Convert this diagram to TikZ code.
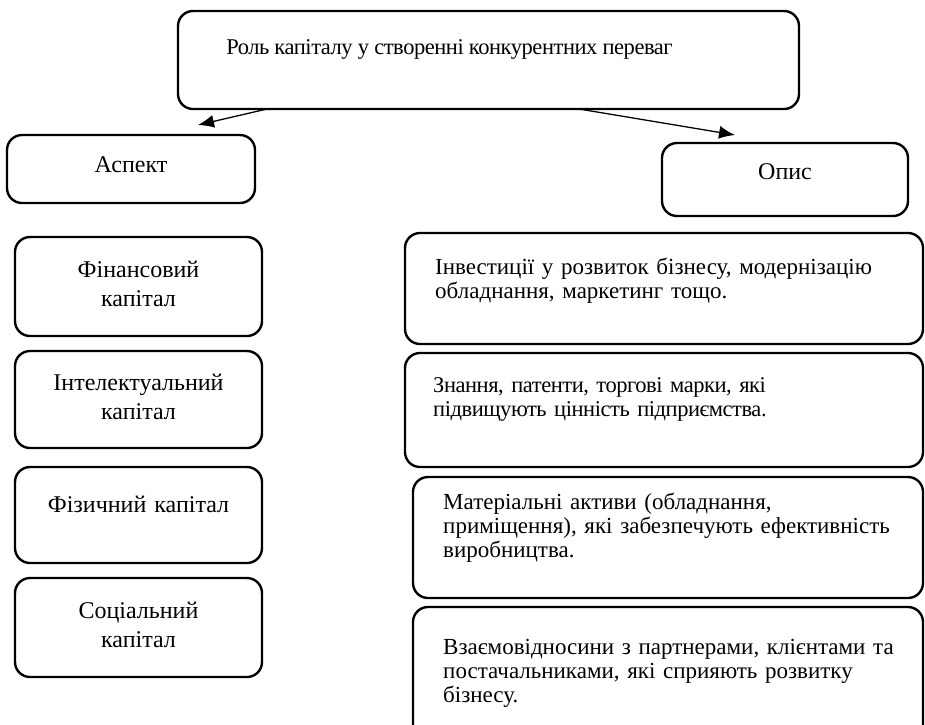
\documentclass[tikz,border=0pt]{standalone}
\usepackage{fontspec}
\setmainfont{Liberation Serif}
\newfontfamily\tightserif[LetterSpace=-2]{Liberation Serif}
\usetikzlibrary{calc,arrows.meta}
\tikzset{>={Latex[length=16pt,width=13pt]}}
\tikzset{
  box/.style={draw,line width=2.4pt,rounded corners=15pt,outer sep=0pt},
  head/.style={font=\fontsize{24}{29}\selectfont,anchor=base,inner sep=0pt},
  capname/.style={font=\fontsize{24}{29}\selectfont,text width=245pt,align=center,anchor=base,inner sep=0pt},
  capdesc/.style={font=\fontsize{23}{24}\selectfont,text width=480pt,align=left,anchor=base west,inner sep=0pt},
}

\begin{document}
\begin{tikzpicture}[x=1pt,y=-1pt]
  \useasboundingbox (0,0) rectangle (925,724);
  \clip (0,0) rectangle (925,724);
  % headings
  \node[box,minimum width=621,minimum height=98] (role) at (488.5,60) {};
  \node[head,font=\tightserif\fontsize{22.5}{25}\selectfont] at ([xshift=-39pt,yshift=6pt]role.center) {Роль капіталу у створенні конкурентних переваг};
  \node[box,minimum width=248,minimum height=68] (aspect) at (131,169) {};
  \node[head] at ([yshift=-3pt]aspect.center) {Аспект};
  \node[box,minimum width=246,minimum height=73] (opys) at (785,179.5) {};
  \node[head] at (opys.center) {Опис};
  % arrows
  \coordinate (role-l) at ($(role.south west)+(89,0)$);
  \coordinate (role-r) at ($(role.south west)+(401,0)$);
  \coordinate (aspect-tip) at (198,125);
  \coordinate (opys-tip) at (735,135);
  \draw[->,line width=1.3pt] (role-l) -- (aspect-tip);
  \draw[->,line width=1.3pt] (role-r) -- (opys-tip);
  % aspects
  \node[box,minimum width=247,minimum height=99] (fin) at (138.5,286.5) {};
  \node[capname] at ([yshift=9.5pt]fin.center) {Фінансовий\\капітал};
  \node[box,minimum width=247,minimum height=97] (intel) at (138.5,399.5) {};
  \node[capname] at ([yshift=9.5pt]intel.center) {Інтелектуальний\\капітал};
  \node[box,minimum width=247,minimum height=96] (phys) at (138.5,515) {};
  \node[capname] at ([yshift=3pt]phys.center) {Фізичний капітал};
  \node[box,minimum width=247,minimum height=99] (soc) at (138.5,627.5) {};
  \node[capname] at ([yshift=9.5pt]soc.center) {Соціальний\\капітал};
  % descriptions
  \node[box,minimum width=518,minimum height=111] (inv) at (664,288.5) {};
  \node[capdesc] at ([xshift=30pt,yshift=-41pt]inv.north west) {Інвестиції у розвиток бізнесу, модернізацію\\обладнання, маркетинг тощо.};
  \node[box,minimum width=518,minimum height=114] (know) at (664,410) {};
  \node[capdesc,font=\tightserif\fontsize{22.5}{24}\selectfont] at ([xshift=28pt,yshift=-39pt]know.north west) {Знання, патенти, торгові марки, які\\підвищують цінність підприємства.};
  \node[box,minimum width=510,minimum height=121] (mat) at (668,537.5) {};
  \node[capdesc] at ([xshift=30pt,yshift=-32pt]mat.north west) {Матеріальні активи (обладнання,\\приміщення), які забезпечують ефективність\\виробництва.};
  \node[box,minimum width=510,minimum height=143] (rel) at (668,678.5) {};
  \node[capdesc] at ([xshift=30pt,yshift=-47pt]rel.north west) {Взаємовідносини з партнерами, клієнтами та\\постачальниками, які сприяють розвитку\\бізнесу.};
\end{tikzpicture}
\end{document}
